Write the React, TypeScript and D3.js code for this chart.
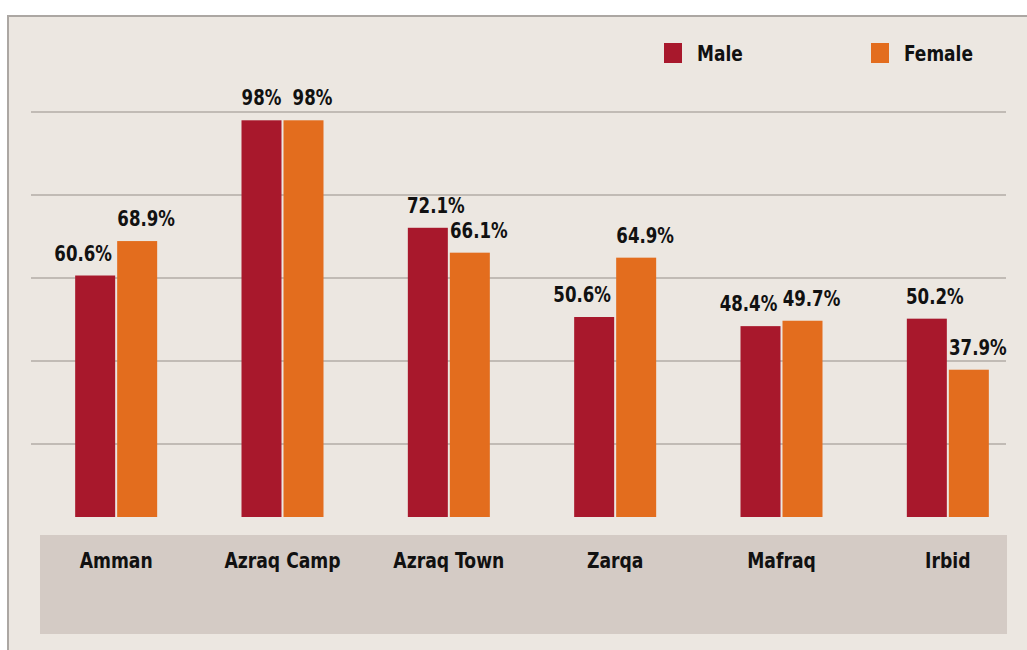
import React from "react";
import * as d3 from "d3";

const categories = ["Amman", "Azraq Camp", "Azraq Town", "Zarqa", "Mafraq", "Irbid"];
const maleValues = [60.6, 98, 72.1, 50.6, 48.4, 50.2];
const femaleValues = [68.9, 98, 66.1, 64.9, 49.7, 37.9];
const maleLabels = ["60.6%", "98%", "72.1%", "50.6%", "48.4%", "50.2%"];
const femaleLabels = ["68.9%", "98%", "66.1%", "64.9%", "49.7%", "37.9%"];
const gridTicks = [20, 40, 60, 80, 100];
const seriesNames = ["Male", "Female"];

const W = 1027;
const H = 650;
const MALE = "#a8182c";
const FEMALE = "#e36d1e";
const BG = "#ece7e1";
const BAND = "#d4cbc5";
const FONT = "'DejaVu Sans Condensed', 'DejaVu Sans', sans-serif";

function Label(props: { x: number; y: number; size: number; sx: number; anchor?: string; children: React.ReactNode }) {
  const { x, y, size, sx, anchor = "middle", children } = props;
  return (
    <text
      transform={`translate(${x},${y}) scale(${sx},1)`}
      textAnchor={anchor}
      fontSize={size}
      fontWeight="bold"
      fill="#111"
    >
      {children}
    </text>
  );
}

export default function App() {
  const x = d3.scaleBand<string>().domain(categories).range([33, 1031]).padding(0);
  const y = d3.scaleLinear().domain([0, 100]).range([527, 112]);
  const baseline = 517;
  const barW = 40;
  const gap = 2;

  return (
    <svg
      width={W}
      height={H}
      style={{ position: "absolute", left: 0, top: 0, display: "block" }}
      fontFamily={FONT}
    >
      <rect x={0} y={0} width={W} height={H} fill="#ffffff" />
      <rect x={8} y={16} width={W + 10} height={H} fill={BG} stroke="#aca7a3" strokeWidth={2} />
      {gridTicks.map((t) => (
        <line key={t} x1={31} x2={1006} y1={y(t)} y2={y(t)} stroke="#b3aca6" strokeWidth={1.5} />
      ))}
      <rect x={40} y={535} width={967} height={99} fill={BAND} />
      {categories.map((c, i) => {
        const cx = (x(c) as number) + x.bandwidth() / 2;
        const mx = cx - gap / 2 - barW;
        const fx = cx + gap / 2;
        const m = maleValues[i];
        const f = femaleValues[i];
        const mOff = m > f ? 8 : m === f ? 0 : -12;
        return (
          <g key={c}>
            <rect x={mx} y={y(m)} width={barW} height={baseline - y(m)} fill={MALE} />
            <rect x={fx} y={y(f)} width={barW} height={baseline - y(f)} fill={FEMALE} />
            <Label x={mx + barW / 2 + mOff} y={y(m) - 15} size={21} sx={0.88}>
              {maleLabels[i]}
            </Label>
            <Label x={fx + barW / 2 + 9} y={y(f) - 15} size={21} sx={0.88}>
              {femaleLabels[i]}
            </Label>
            <Label x={cx} y={568} size={22} sx={0.87}>
              {c}
            </Label>
          </g>
        );
      })}
      {seriesNames.map((s, i) => (
        <g key={s} transform={`translate(${664 + i * 207},43)`}>
          <rect x={0} y={0} width={18} height={20} fill={i === 0 ? MALE : FEMALE} />
          <Label x={33} y={18} size={22} sx={0.86} anchor="start">
            {s}
          </Label>
        </g>
      ))}
    </svg>
  );
}
